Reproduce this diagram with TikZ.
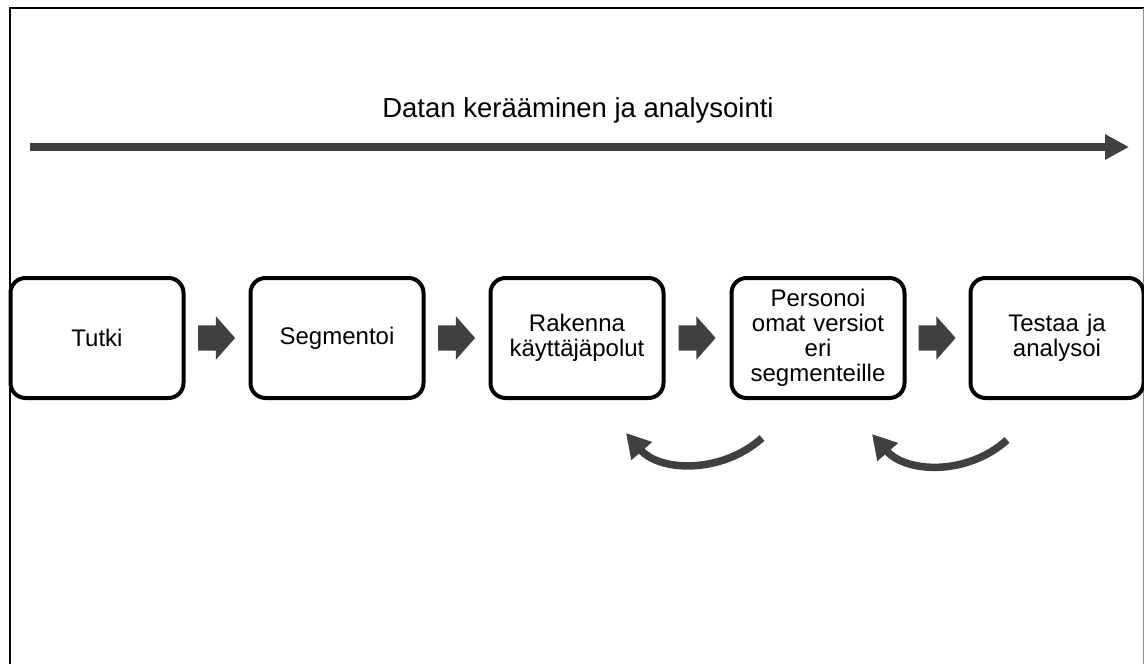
\documentclass[tikz,border=0pt]{standalone}
\usepackage{fontspec}
\setmainfont{Liberation Sans}
\usetikzlibrary{arrows.meta,positioning,calc,shapes.arrows}
\definecolor{FlowGray}{HTML}{404040}
\definecolor{FrameGray}{HTML}{8C8C8C}

\begin{document}
\begin{tikzpicture}[x=1pt,y=-1pt,
  stepbox/.style={draw=black,line width=4pt,rounded corners=15pt,
    minimum width=173pt,minimum height=120pt,text width=170pt,
    align=center,inner sep=0pt,font=\fontsize{24}{25}\selectfont},
  flowarrow/.style={single arrow,fill=FlowGray,draw=none,inner sep=0pt,
    text height=25pt,text depth=0pt,minimum height=37pt,
    single arrow head extend=9pt,single arrow tip angle=97,xshift=-6pt},
  loopback/.style={draw=FlowGray,line width=7.5pt,
    -{Triangle[length=24pt,width=26pt]}}]
  \useasboundingbox (0,0) rectangle (1144,664);
  % frame
  \draw[line width=2pt] (10,664) -- (10,8) -- (1144,8);
  \draw[FrameGray,line width=1pt] (1143,8) -- (1143,664);
  % data collection
  \node[font=\fontsize{27.5}{30}\selectfont] (title) at (578,110) {Datan kerääminen ja analysointi};
  \coordinate (dstart) at (30,147);
  \coordinate (dend) at (1129,147);
  \draw[FlowGray,line width=8pt,-{Triangle[length=24pt,width=24pt]}] (dstart) -- (dend);
  % steps
  \foreach \i/\x/\txt in {1/97/Tutki,2/337/Segmentoi,3/577/Rakenna\\käyttäjäpolut,
      4/818/Personoi\\omat versiot\\eri\\segmenteille,5/1057/Testaa ja\\analysoi}
    \node[stepbox] (b\i) at (\x,338) {\txt};
  \foreach \i/\j in {1/2,2/3,3/4,4/5}
    \node[flowarrow] (f\i) at ($(b\i.east)!0.5!(b\j.west)$) {};
  % loops back
  \coordinate (r1s) at ($(b4.south)+(-56,38)$);
  \coordinate (r1e) at ($(b3.south)+(49,33)$);
  \coordinate (r2s) at ($(b5.south)+(-50,40)$);
  \coordinate (r2e) at ($(b4.south)+(54,34)$);
  \draw[loopback] (r1s) .. controls +(-40,36) and +(34,39) .. (r1e);
  \draw[loopback] (r2s) .. controls +(-40,36) and +(34,39) .. (r2e);
\end{tikzpicture}
\end{document}
